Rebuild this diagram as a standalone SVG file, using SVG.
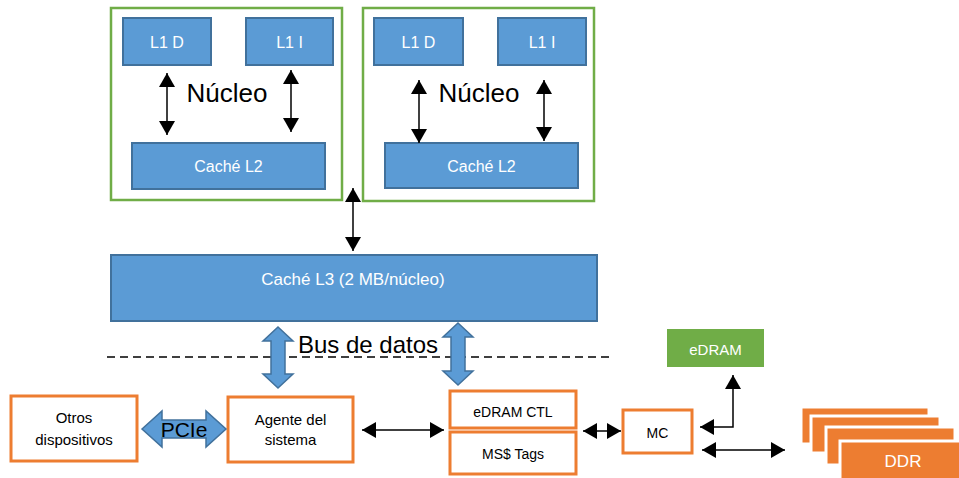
<svg xmlns="http://www.w3.org/2000/svg" width="959" height="478" viewBox="0 0 959 478">
<style>
text{font-family:"Liberation Sans",Arial,sans-serif;text-anchor:middle}
.core{fill:#fff;stroke:#70AD47;stroke-width:2.5}
.blue{fill:#5B9BD5;stroke:#41719C;stroke-width:2}
.wt{fill:#fff;font-size:16px}
.orange{fill:#fff;stroke:#ED7D31;stroke-width:3}
.bt{fill:#000;font-size:15px}
.big{fill:#000;font-size:26px}
.ln{fill:none;stroke:#000;stroke-width:1.5;marker-start:url(#ah);marker-end:url(#ah)}
.blk{fill:#5B9BD5;stroke:#41719C;stroke-width:1.5}
.ddr{fill:#ED7D31;stroke:#fff;stroke-width:3}
</style>
<defs>
<marker id="ah" viewBox="0 0 14 16" refX="14" refY="8" markerWidth="14" markerHeight="16" markerUnits="userSpaceOnUse" orient="auto-start-reverse">
<path d="M0,0 L14,8 L0,16 Z" fill="#000"/>
</marker>
</defs>
<rect width="959" height="478" fill="#fff"/>
<g id="core1">
<rect class="core" x="111" y="8" width="231" height="192"/>
<text class="big" x="227" y="102">Núcleo</text>
</g>
<g id="core1-l1d"><rect class="blue" x="123" y="18" width="88" height="47"/><text class="wt" x="167" y="48">L1 D</text></g>
<g id="core1-l1i"><rect class="blue" x="246" y="18" width="87" height="47"/><text class="wt" x="289.5" y="48">L1 I</text></g>
<g id="core1-l2"><rect class="blue" x="132" y="143" width="193" height="46"/><text class="wt" x="228.5" y="172">Caché L2</text></g>
<g id="core2">
<rect class="core" x="363" y="8" width="231" height="193"/>
<text class="big" x="479" y="102">Núcleo</text>
</g>
<g id="core2-l1d"><rect class="blue" x="374" y="18" width="89" height="47"/><text class="wt" x="418.5" y="48">L1 D</text></g>
<g id="core2-l1i"><rect class="blue" x="498" y="18" width="88" height="47"/><text class="wt" x="542" y="48">L1 I</text></g>
<g id="core2-l2"><rect class="blue" x="385" y="143" width="193" height="45"/><text class="wt" x="481.5" y="172">Caché L2</text></g>
<g id="l3"><rect class="blue" x="111" y="255" width="486" height="66"/><text class="wt" x="353" y="285" style="font-size:17px">Caché L3 (2 MB/núcleo)</text></g>
<g id="bus">
<line x1="107" y1="357" x2="612" y2="357" stroke="#000" stroke-width="1.5" stroke-dasharray="8,5"/>
<text class="big" x="368" y="353" style="font-size:24px">Bus de datos</text>
</g>
<g id="otros"><rect class="orange" x="11" y="396" width="126" height="65"/><text class="bt" x="74" y="423">Otros</text><text class="bt" x="74" y="445">dispositivos</text></g>
<g id="agente"><rect class="orange" x="228" y="397" width="125" height="65"/><text class="bt" x="290.5" y="425">Agente del</text><text class="bt" x="290.5" y="445">sistema</text></g>
<g id="edramctl"><rect class="orange" x="450" y="391" width="126" height="37"/><text class="bt" x="513" y="417" style="font-size:14px">eDRAM CTL</text></g>
<g id="mstags"><rect class="orange" x="450" y="432" width="126" height="42"/><text class="bt" x="513" y="459" style="font-size:14px">MS$ Tags</text></g>
<g id="mc"><rect class="orange" x="623" y="410" width="69" height="43"/><text class="bt" x="657.5" y="438" style="font-size:14px">MC</text></g>
<g id="edram"><rect x="667" y="329" width="97" height="38" fill="#70AD47"/><text x="715.5" y="355" fill="#fff" style="font-size:15px">eDRAM</text></g>
<g id="ddr">
<rect class="ddr" x="801" y="407" width="128" height="37"/>
<rect class="ddr" x="811" y="416" width="129" height="37"/>
<rect class="ddr" x="826" y="427" width="129" height="38"/>
<rect class="ddr" x="840" y="441" width="130" height="40"/>
<text x="903" y="467" fill="#fff" style="font-size:17px">DDR</text>
</g>
<g id="connectors">
<line class="ln" x1="167" y1="73" x2="167" y2="135"/>
<line class="ln" x1="291" y1="70" x2="291" y2="132"/>
<line class="ln" x1="419" y1="80" x2="419" y2="143"/>
<line class="ln" x1="544" y1="80" x2="544" y2="141"/>
<line class="ln" x1="353" y1="188" x2="353" y2="251"/>
<path class="blk" d="M278,327 L293,341 L285,341 L285,374 L293,374 L278,388 L263,374 L271,374 L271,341 L263,341 Z"/>
<path class="blk" d="M458,323 L473,337 L465,337 L465,371 L473,371 L458,385 L443,371 L451,371 L451,337 L443,337 Z"/>
<path class="blk" d="M142,429 L162,411 L162,420 L206,420 L206,411 L226,429 L206,447 L206,438 L162,438 L162,447 Z"/>
<text class="big" x="184" y="437" style="font-size:21px">PCIe</text>
<line class="ln" x1="362" y1="430" x2="444" y2="430"/>
<line class="ln" x1="583" y1="431" x2="621" y2="431"/>
<polyline class="ln" points="700,427 733,427 733,375"/>
<line class="ln" x1="702" y1="450" x2="785" y2="450"/>
</g>
</svg>
